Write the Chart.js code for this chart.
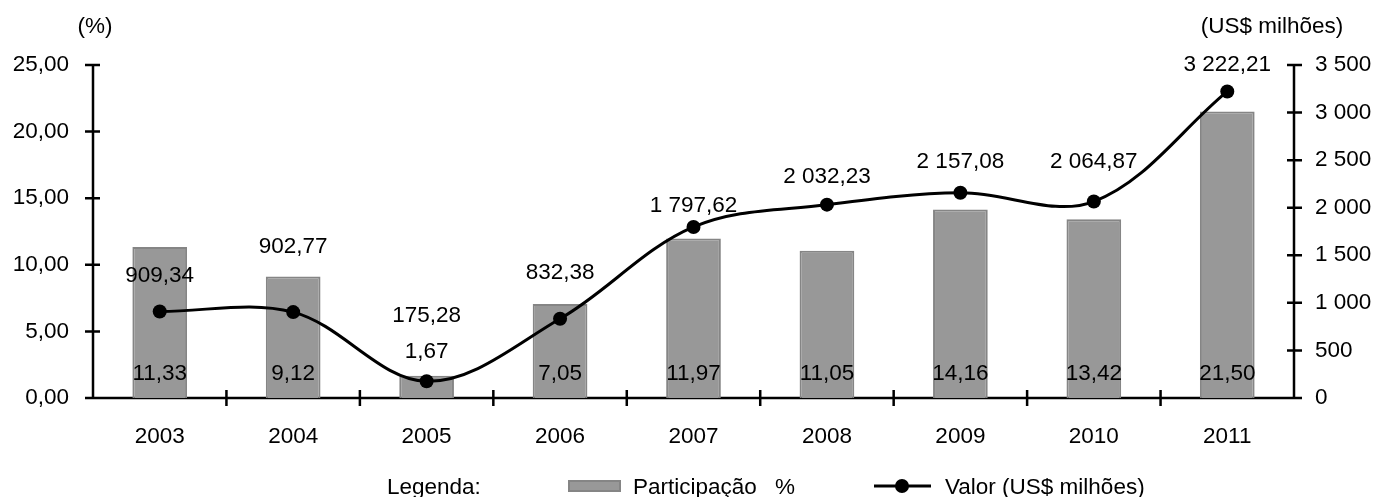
<!DOCTYPE html>
<html lang="pt">
<head>
<meta charset="utf-8">
<title>Participação % e Valor (US$ milhões)</title>
<script src="https://cdn.jsdelivr.net/npm/chart.js@4"></script>
<style>
  html, body { margin: 0; padding: 0; background: #fff; }
  #caixa { width: 1375px; height: 497px; position: relative; }
</style>
</head>
<body>
<div id="caixa"><canvas id="grafico"></canvas></div>
<script>
// dados
const anos = ['2003', '2004', '2005', '2006', '2007', '2008', '2009', '2010', '2011'];
const participacao = [11.33, 9.12, 1.67, 7.05, 11.97, 11.05, 14.16, 13.42, 21.50];
const valorMilhoes = [909.34, 902.77, 175.28, 832.38, 1797.62, 2032.23, 2157.08, 2064.87, 3222.21];

// deslocamento vertical (px) dos rótulos da linha acima de cada ponto
const deslocRotulo = [37, 67, 67, 48, 23, 30, 33, 42, 28];

const FONTE = '"Liberation Sans", Arial, sans-serif';
const TAM = 22.5;
const fonte = `${TAM}px ${FONTE}`;

function fmtPct(v) {
  return v.toFixed(2).replace('.', ',');
}

function milhar(n) {
  return String(n).replace(/\B(?=(\d{3})+(?!\d))/g, ' ');
}

function fmtValor(v) {
  const [inteiro, dec] = v.toFixed(2).split('.');
  return milhar(inteiro) + ',' + dec;
}

const pluginEixos = {
  id: 'pluginEixos',
  beforeDatasetsDraw(chart) {
    const { ctx, chartArea, scales } = chart;
    const { left, right, top, bottom } = chartArea;
    ctx.save();
    ctx.strokeStyle = '#000';
    ctx.lineWidth = 2.5;
    ctx.beginPath();
    ctx.moveTo(left, top);
    ctx.lineTo(left, bottom);
    ctx.moveTo(right, top);
    ctx.lineTo(right, bottom);
    ctx.moveTo(left, bottom);
    ctx.lineTo(right, bottom);
    scales.y.ticks.forEach((t) => {
      const py = scales.y.getPixelForValue(t.value);
      ctx.moveTo(left - 8, py);
      ctx.lineTo(left + 7, py);
    });
    scales.y1.ticks.forEach((t) => {
      const py = scales.y1.getPixelForValue(t.value);
      ctx.moveTo(right - 7, py);
      ctx.lineTo(right + 8, py);
    });
    for (let i = 0; i < anos.length - 1; i++) {
      const px = (scales.x.getPixelForValue(i) + scales.x.getPixelForValue(i + 1)) / 2;
      ctx.moveTo(px, bottom - 8);
      ctx.lineTo(px, bottom + 8);
    }
    ctx.stroke();
    ctx.restore();
  },
  afterDatasetsDraw(chart) {
    const { ctx, chartArea } = chart;
    ctx.save();
    ctx.font = fonte;
    ctx.fillStyle = '#000';
    ctx.textAlign = 'center';
    ctx.textBaseline = 'alphabetic';

    // rótulo da barra junto à base; acima dela quando a barra é baixa demais
    const barras = chart.getDatasetMeta(1).data;
    barras.forEach((b, i) => {
      const altura = chartArea.bottom - b.y;
      const centro = altura < 30 ? b.y - 26 : chartArea.bottom - 26;
      ctx.fillText(fmtPct(participacao[i]), b.x, centro + 8);
    });

    const pontos = chart.getDatasetMeta(0).data;
    pontos.forEach((p, i) => {
      const centro = p.y - deslocRotulo[i];
      ctx.fillText(fmtValor(valorMilhoes[i]), p.x, centro + 8);
    });
    ctx.restore();
  },
  afterDraw(chart) {
    const { ctx, chartArea } = chart;
    ctx.save();
    ctx.font = fonte;
    ctx.fillStyle = '#000';
    ctx.textBaseline = 'alphabetic';

    // títulos dos eixos
    ctx.textAlign = 'center';
    ctx.fillText('(%)', chartArea.left + 2, 33);
    ctx.fillText('(US$ milhões)', chartArea.right - 22, 33);

    // legenda
    const yBase = 494;
    ctx.textAlign = 'left';
    ctx.fillText('Legenda:', 387, yBase);

    ctx.fillStyle = '#989898';
    ctx.strokeStyle = '#858585';
    ctx.lineWidth = 2;
    ctx.fillRect(569, 481, 51, 10);
    ctx.strokeRect(569, 481, 51, 10);

    ctx.fillStyle = '#000';
    ctx.fillText('Participação', 633, yBase);
    ctx.fillText('%', 775, yBase);

    ctx.strokeStyle = '#000';
    ctx.lineWidth = 3;
    ctx.beginPath();
    ctx.moveTo(874, 486);
    ctx.lineTo(931, 486);
    ctx.stroke();
    ctx.beginPath();
    ctx.arc(902, 486, 7, 0, Math.PI * 2);
    ctx.fill();

    ctx.fillText('Valor (US$ milhões)', 945, yBase);
    ctx.restore();
  },
};

new Chart(document.getElementById('grafico'), {
  type: 'bar',
  data: {
    labels: anos,
    datasets: [
      {
        type: 'line',
        label: 'Valor (US$ milhões)',
        data: valorMilhoes,
        yAxisID: 'y1',
        order: 0,
        borderColor: '#000',
        borderWidth: 3,
        backgroundColor: '#000',
        pointRadius: 7,
        pointBorderWidth: 0,
        pointBackgroundColor: '#000',
        tension: 0.35,
        fill: false,
      },
      {
        type: 'bar',
        label: 'Participação %',
        data: participacao,
        yAxisID: 'y',
        order: 1,
        backgroundColor: '#989898',
        borderColor: '#858585',
        borderWidth: 2,
        categoryPercentage: 1,
        barPercentage: 0.41,
      },
    ],
  },
  options: {
    responsive: true,
    maintainAspectRatio: false,
    animation: false,
    events: [],
    layout: { padding: { top: 65, right: 0, bottom: 0, left: 0 } },
    scales: {
      x: {
        grid: { display: false, drawTicks: false },
        border: { display: false },
        ticks: { color: '#000', font: { family: FONTE, size: TAM }, padding: 25, maxRotation: 0 },
        afterFit(s) { s.height = 99; },
      },
      y: {
        position: 'left',
        min: 0,
        max: 25,
        grid: { display: false, drawTicks: false },
        border: { display: false },
        ticks: {
          stepSize: 5,
          color: '#000',
          font: { family: FONTE, size: TAM },
          padding: 24,
          callback: (v) => fmtPct(v),
        },
        afterFit(s) { s.width = 93; },
      },
      y1: {
        position: 'right',
        min: 0,
        max: 3500,
        grid: { display: false, drawTicks: false },
        border: { display: false },
        ticks: {
          stepSize: 500,
          color: '#000',
          font: { family: FONTE, size: TAM },
          padding: 21,
          callback: (v) => milhar(v),
        },
        afterFit(s) { s.width = 81; },
      },
    },
    plugins: {
      legend: { display: false },
      tooltip: { enabled: false },
    },
  },
  plugins: [pluginEixos],
});
</script>
</body>
</html>
